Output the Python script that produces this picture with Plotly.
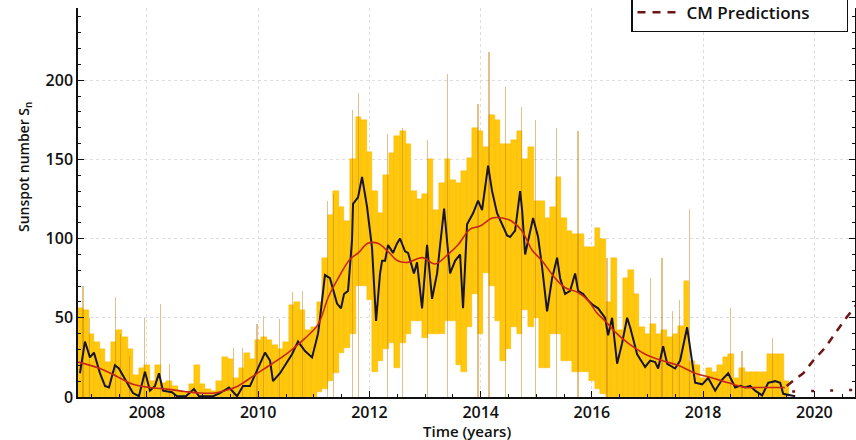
import plotly.graph_objects as go

# ---------------- data ----------------
daily_start = 2006.8
daily_step = 0.1
daily_hi = [56, 55,
            40, 35, 30, 22, 35, 42, 38, 30, 14, 18,
            20, 10, 20, 9, 10, 7, 4, 3, 8, 20,
            8, 5, 4, 10, 25, 24, 12, 18, 28, 24,
            36, 38, 36, 33, 30, 35, 58, 60, 55, 42,
            44, 60, 88, 115, 130, 120, 111, 150, 177, 175,
            155, 130, 116, 140, 154, 165, 168, 160, 130, 125,
            128, 150, 118, 135, 150, 137, 135, 143, 151, 170,
            168, 158, 178, 175, 160, 160, 162, 168, 150, 158,
            124, 124, 113, 120, 139, 113, 105, 103, 103, 95,
            95, 107, 100, 60, 88, 42, 75, 80, 65, 44,
            40, 46, 40, 42, 38, 40, 45, 73, 23, 20,
            12, 18, 16, 20, 25, 27, 12, 18, 16, 16,
            16, 16, 27, 27, 27, 10]
daily_lo = [0, 0,
            0, 0, 0, 0, 0, 0, 0, 0, 0, 0,
            0, 0, 0, 0, 0, 0, 0, 0, 0, 0,
            0, 0, 0, 0, 0, 0, 0, 0, 0, 0,
            0, 0, 0, 0, 0, 0, 0, 0, 0, 0,
            0, 3, 5, 10, 15, 28, 31, 40, 70, 70,
            61, 16, 23, 30, 34, 18, 34, 40, 48, 48,
            37, 40, 40, 40, 48, 48, 20, 16, 44, 65,
            40, 78, 70, 48, 23, 30, 44, 40, 55, 44,
            50, 18, 18, 40, 40, 23, 23, 16, 16, 16,
            10, 5, 2, 0, 0, 0, 0, 0, 0, 0,
            0, 0, 0, 0, 0, 0, 0, 0, 0, 0,
            0, 0, 0, 0, 0, 0, 0, 0, 0, 0,
            0, 0, 0, 0, 0, 0]
daily_years = [round(daily_start + daily_step * i, 2) for i in range(len(daily_hi))]

spike_years = [2006.85, 2006.97, 2007.44, 2007.53, 2007.68, 2007.95, 2008.25, 2008.41,
               2009.55, 2009.72, 2009.98, 2010.10, 2010.38, 2010.61, 2010.80, 2011.25,
               2011.36, 2011.70, 2011.81, 2012.32, 2012.60, 2013.04, 2013.40, 2013.95,
               2014.15, 2014.44, 2014.74, 2014.98, 2015.36, 2015.75, 2016.27, 2017.05,
               2017.26, 2017.45, 2017.57, 2017.76, 2018.49, 2018.70, 2019.24]
spike_vals = [70, 50, 63, 40, 26, 50, 59, 21,
              31, 31, 46, 51, 49, 66, 67, 124,
              128, 181, 192, 166, 170, 162, 204, 185,
              218, 196, 183, 175, 170, 168, 88, 75,
              88, 54, 61, 119, 56, 29, 37]

monthly_years = [2006.795, 2006.885, 2006.975, 2007.047, 2007.155, 2007.245, 2007.317, 2007.424,
                 2007.496, 2007.604, 2007.748, 2007.856, 2007.964, 2008.054, 2008.144, 2008.216,
                 2008.288, 2008.45, 2008.54, 2008.70, 2008.845, 2008.935, 2009.19, 2009.31,
                 2009.475, 2009.62, 2009.727, 2009.853, 2009.996, 2010.122, 2010.212, 2010.266,
                 2010.392, 2010.608, 2010.716, 2010.842, 2010.968, 2011.076, 2011.112, 2011.20,
                 2011.29, 2011.417, 2011.489, 2011.543, 2011.615, 2011.687, 2011.705, 2011.795,
                 2011.867, 2011.957, 2012.047, 2012.119, 2012.191, 2012.227, 2012.281, 2012.335,
                 2012.424, 2012.496, 2012.55, 2012.64, 2012.694, 2012.766, 2012.80, 2012.856,
                 2012.91, 2012.946, 2013.036, 2013.126, 2013.216, 2013.27, 2013.342, 2013.45,
                 2013.54, 2013.63, 2013.683, 2013.755, 2013.81, 2013.863, 2013.953, 2014.025,
                 2014.133, 2014.205, 2014.295, 2014.385, 2014.475, 2014.529, 2014.619, 2014.709,
                 2014.745, 2014.799, 2014.853, 2014.942, 2015.032, 2015.104, 2015.194, 2015.284,
                 2015.374, 2015.428, 2015.518, 2015.608, 2015.698, 2015.752, 2015.842, 2015.932,
                 2016.022, 2016.112, 2016.237, 2016.291, 2016.363, 2016.453, 2016.543, 2016.633,
                 2016.687, 2016.813, 2016.957, 2017.047, 2017.137, 2017.191, 2017.281, 2017.353,
                 2017.496, 2017.586, 2017.712, 2017.802, 2017.856, 2017.982, 2018.09, 2018.216,
                 2018.342, 2018.45, 2018.576, 2018.665, 2018.755, 2018.845, 2018.935, 2019.06,
                 2019.169, 2019.295, 2019.385, 2019.439, 2019.565, 2019.655]
monthly_vals = [15, 35, 25, 28, 15, 7, 6, 20,
                18, 11, 2.5, 0.5, 16, 4, 7, 15,
                4, 3, 0.5, 0.5, 5, 0.5, 0.5, 2.5,
                6, 0.5, 7, 7, 18, 28, 23, 10,
                15, 27, 35, 29, 25, 40, 50, 77,
                75, 59, 56, 65, 67, 99, 122, 126,
                139, 120, 94, 48, 78, 86, 86, 96,
                91, 97, 100, 92, 91, 82, 78, 85,
                65, 56, 96, 62, 78, 94, 119, 78,
                86, 90, 56, 109, 113, 116, 124, 118,
                146, 130, 116, 109, 102, 101, 105, 130,
                118, 90, 99, 113, 101, 82, 54, 75,
                88, 75, 65, 67, 78, 67, 65, 61,
                58, 56, 50, 39, 50, 21, 34, 50,
                44, 27, 19, 23, 22, 18, 32, 21,
                18, 23, 44, 23, 9, 8, 12, 4,
                11, 15, 6, 7, 6, 7, 4, 1,
                9, 10, 9, 2, 1, 0.5]

smooth_years = [2006.76, 2007.155, 2007.46, 2007.75, 2008.05, 2008.36, 2008.68, 2008.95,
                2009.22, 2009.40, 2009.64, 2009.94, 2010.25, 2010.54, 2010.84, 2011.08,
                2011.26, 2011.47, 2011.65, 2011.80, 2011.97, 2012.15, 2012.33, 2012.51,
                2012.69, 2012.95, 2013.18, 2013.41, 2013.59, 2013.81, 2013.99, 2014.21,
                2014.39, 2014.56, 2014.74, 2014.92, 2015.10, 2015.34, 2015.52, 2015.75,
                2015.93, 2016.09, 2016.24, 2016.42, 2016.65, 2016.96, 2017.26, 2017.55,
                2017.86, 2018.17, 2018.45, 2018.76, 2018.99, 2019.24, 2019.47]
smooth_vals = [22, 18, 13, 8, 6, 5, 3.5, 2.5,
               2.5, 4, 7, 14, 21, 28, 37, 46,
               63, 77, 87, 91, 97, 97, 92, 86,
               85, 88, 84, 90, 96, 106, 108, 113,
               113, 111, 105, 93, 86, 75, 69, 66,
               61, 53, 48, 41, 34, 27, 23, 20,
               15, 12, 9, 6, 6, 6, 6]

cm_years = [2019.50, 2019.62, 2019.80, 2019.98, 2020.19, 2020.37, 2020.55, 2020.75]
cm_vals = [7, 10, 15, 23, 31, 40, 49, 58]

sc_years = [2019.60, 2020.75]
sc_vals = [3.5, 4.5]

x_ticks = [2008, 2010, 2012, 2014, 2016, 2018, 2020]
y_ticks = [0, 50, 100, 150, 200]

# ---------------- figure ----------------
FONT = "Open Sans"
INK = "#111111"
YELLOW = "#FFC80A"
fig = go.Figure()

# daily values: columns between local minima and maxima
fig.add_trace(go.Bar(
    x=daily_years, y=[h - l for h, l in zip(daily_hi, daily_lo)], base=daily_lo,
    width=daily_step, marker=dict(color=YELLOW, line=dict(width=0.4, color="#F7B400")),
    showlegend=False, hoverinfo="skip"))

# isolated daily peaks
fig.add_trace(go.Bar(
    x=spike_years, y=spike_vals, base=0, width=0.022,
    marker=dict(color="rgba(200,130,20,0.5)", line=dict(width=0)),
    showlegend=False, hoverinfo="skip"))

fig.add_trace(go.Scatter(
    x=monthly_years, y=monthly_vals, mode="lines",
    line=dict(color="#17142c", width=2), showlegend=False))

fig.add_trace(go.Scatter(
    x=smooth_years, y=smooth_vals, mode="lines", line_shape="spline",
    line=dict(color="#c8261c", width=1.6), showlegend=False))

PAD = "\u00a0" * 7
fig.add_trace(go.Scatter(
    x=sc_years, y=sc_vals, mode="lines", name="SC Predictions" + PAD,
    line=dict(color="#6e1414", width=2.5, dash="3px,16px")))

fig.add_trace(go.Scatter(
    x=cm_years, y=cm_vals, mode="lines", name="CM Predictions" + PAD,
    line=dict(color="#6e1414", width=2.5, dash="8px,7px")))

W, H = 856, 440
ml, mr, mt, mb = 78, 1, 8, 43
pw, ph = W - ml - mr, H - mt - mb

def px_x(px):
    return (px - ml) / pw

def px_y(py):
    return (H - mb - py) / ph

fig.update_layout(
    width=W, height=H,
    margin=dict(l=ml, r=mr, t=mt, b=mb, autoexpand=False),
    paper_bgcolor="white", plot_bgcolor="white",
    barmode="overlay", bargap=0,
    font=dict(family=FONT, size=15, color=INK),
    legend=dict(x=px_x(848), xanchor="right", y=px_y(32), yanchor="bottom",
                bgcolor="white", bordercolor=INK, borderwidth=1.5,
                font=dict(family=FONT, size=17, color=INK, weight=600),
                itemwidth=44, traceorder="normal"),
    annotations=[
        dict(text="Time (years)", x=0.5, y=px_y(431), xref="paper", yref="paper",
             showarrow=False, xanchor="center", yanchor="middle",
             font=dict(family=FONT, size=15, color=INK, weight=600)),
        dict(text="Sunspot number S<sub>n</sub>", x=px_x(24), y=px_y(167),
             xref="paper", yref="paper", textangle=-90,
             showarrow=False, xanchor="center", yanchor="middle",
             font=dict(family=FONT, size=14, color=INK, weight=600)),
    ],
)

fig.update_xaxes(
    range=[2006.76, 2020.73], tickvals=x_ticks, ticktext=[str(t) for t in x_ticks],
    ticks="inside", ticklen=6, tickwidth=1, tickcolor=INK,
    showline=True, linecolor=INK, linewidth=1.5, mirror=False,
    showgrid=True, gridcolor="#dddddd", griddash="dot", gridwidth=1,
    zeroline=False, tickfont=dict(family=FONT, size=16, color=INK, weight=600),
    minor=dict(dtick=0.5, tick0=2008, ticks="inside", ticklen=3, tickcolor=INK, showgrid=False),
)
fig.update_yaxes(
    range=[0, 245.6], tickvals=y_ticks, ticktext=[str(t) for t in y_ticks],
    ticks="inside", ticklen=6, tickwidth=1, tickcolor=INK,
    showline=True, linecolor=INK, linewidth=1.5, mirror="ticks",
    showgrid=True, gridcolor="#dddddd", griddash="dot", gridwidth=1,
    zeroline=False, tickfont=dict(family=FONT, size=16, color=INK, weight=600),
    minor=dict(dtick=10, ticks="inside", ticklen=3, tickcolor=INK, showgrid=False),
)

fig.write_html("out.html", config={"displayModeBar": False},
               post_script="document.body.style.margin='0';document.body.style.overflow='hidden';")
